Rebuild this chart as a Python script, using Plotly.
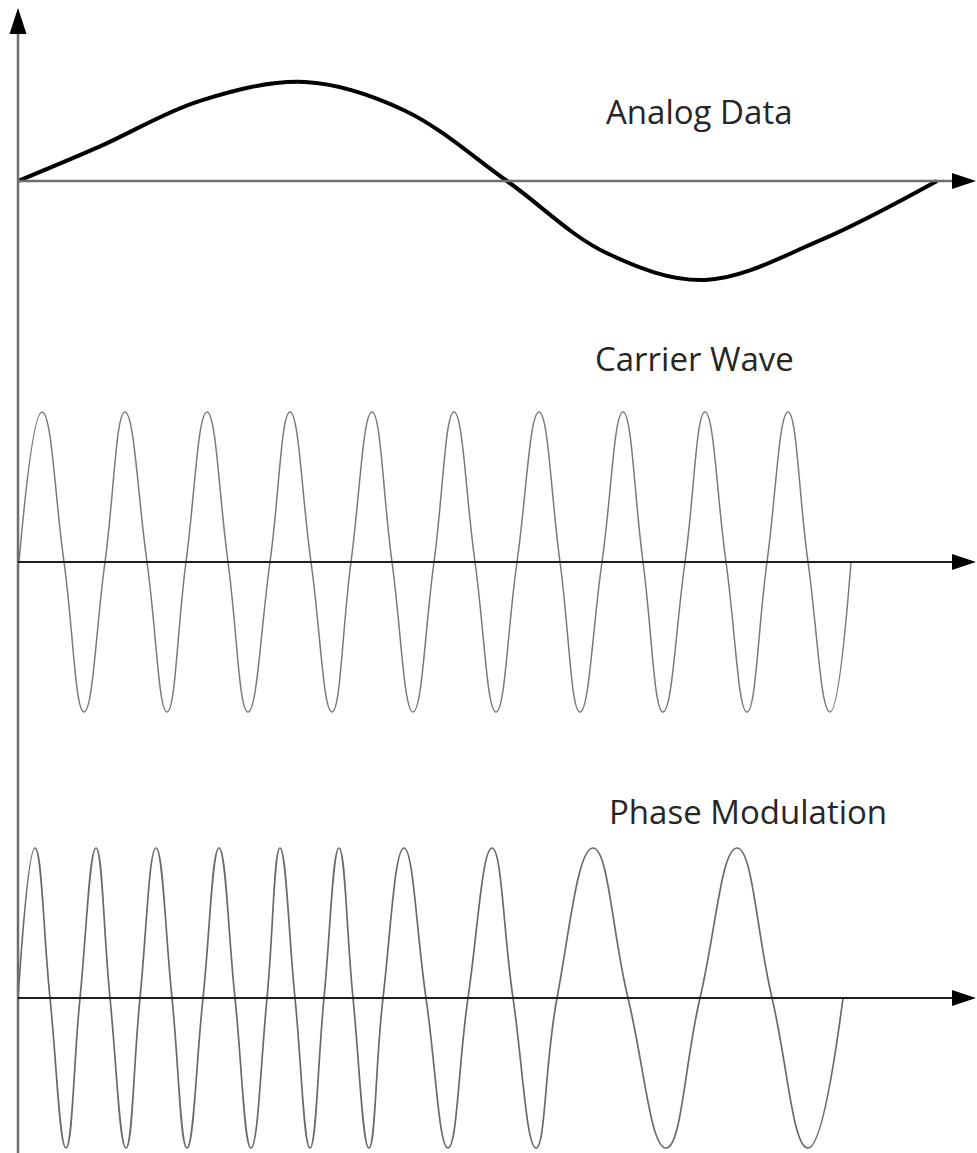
import plotly.graph_objects as go

# ---------------- data ----------------
# time measured from the vertical axis (arbitrary units), amplitude normalised to +-1
analog_t = [0, 82, 182, 287, 387, 489, 587, 687, 802, 919]
analog_v = [0, 0.35, 0.81, 1.0, 0.71, 0, -0.72, -1.0, -0.60, 0]

carrier_t = [1, 24, 46, 66, 87, 107, 129, 149, 168, 189, 210, 230, 252, 272, 293, 314, 333, 354,
             374, 395, 416, 436, 457, 478, 499, 521, 542, 562, 584, 605, 625, 645, 667, 687, 708,
             729, 749, 770, 790, 812, 833]
carrier_v = [0, 1, 0, -1, 0, 1, 0, -1, 0, 1, 0, -1, 0, 1, 0, -1, 0, 1, 0, -1, 0, 1, 0, -1, 0, 1,
             0, -1, 0, 1, 0, -1, 0, 1, 0, -1, 0, 1, 0, -1, 0]

pm_t = [0, 17, 32, 48, 62, 78, 92, 108, 122, 138, 154, 169, 185, 201, 217, 233, 249, 262, 277, 292,
        306, 321, 335, 351, 365, 386, 408, 430, 450, 474, 495, 518, 539, 575, 610, 648, 682, 719,
        754, 790, 825]
pm_v = [0, 1, 0, -1, 0, 1, 0, -1, 0, 1, 0, -1, 0, 1, 0, -1, 0, 1, 0, -1, 0, 1, 0, -1, 0, 1,
        0, -1, 0, 1, 0, -1, 0, 1, 0, -1, 0, 1, 0, -1, 0]

labels = ["Analog Data", "Carrier Wave", "Phase Modulation"]
axis_end_t = [937, 937, 937]   # where each horizontal axis line ends (before the arrow head)

# ---------------- layout helpers ----------------
W, H = 977, 1153
X0 = 18                      # pixel position of the vertical axis (t = 0)


def px(x):
    return x / W


def py(y):
    return 1 - y / H


def ydom(center, half):
    return [max(0.0, 1 - (center + half) / H), min(1.0, 1 - (center - half) / H)]


panels = [  # (center px, amplitude px, half height px)
    (181, 99, 181),
    (562, 150, 170),
    (998, 150, 155),
]

fig = go.Figure()
fig.add_trace(go.Scatter(x=analog_t, y=analog_v, mode="lines", xaxis="x", yaxis="y",
                         line=dict(color="#000000", width=4, shape="spline", smoothing=1.0),
                         hoverinfo="skip", showlegend=False))
fig.add_trace(go.Scatter(x=carrier_t, y=carrier_v, mode="lines", xaxis="x", yaxis="y2",
                         line=dict(color="#7a7a7a", width=1.5, shape="spline", smoothing=1.3),
                         hoverinfo="skip", showlegend=False))
fig.add_trace(go.Scatter(x=pm_t, y=pm_v, mode="lines", xaxis="x", yaxis="y3",
                         line=dict(color="#6a6a6a", width=1.7, shape="spline", smoothing=1.3),
                         hoverinfo="skip", showlegend=False))

layout = dict(
    width=W, height=H, autosize=False,
    margin=dict(l=0, r=0, t=0, b=0, pad=0),
    paper_bgcolor="white", plot_bgcolor="white",
    showlegend=False,
    xaxis=dict(range=[-X0, W - X0], domain=[0, 1], visible=False, fixedrange=True),
)
for i, (c, a, h) in enumerate(panels):
    key = "yaxis" if i == 0 else f"yaxis{i + 1}"
    layout[key] = dict(domain=ydom(c, h), range=[-h / a, h / a], anchor="x",
                       visible=False, fixedrange=True)
fig.update_layout(**layout)

shapes = []
# vertical axis with arrow head
shapes.append(dict(type="line", xref="paper", yref="paper", x0=px(X0), x1=px(X0),
                   y0=py(30), y1=py(H + 5), line=dict(color="#6e6e6e", width=2.5)))
shapes.append(dict(type="path", xref="paper", yref="paper",
                   path=f"M {px(X0)} {py(8)} L {px(X0 - 8.5)} {py(34)} L {px(X0 + 8.5)} {py(34)} Z",
                   fillcolor="#000000", line=dict(color="#000000", width=0)))
axis_colors = ["#6e6e6e", "#1e1e1e", "#1e1e1e"]
axis_widths = [2.6, 2, 2]
for i, (c, a, h) in enumerate(panels):
    shapes.append(dict(type="line", xref="paper", yref="paper",
                       x0=px(X0), x1=px(X0 + axis_end_t[i] + 10), y0=py(c), y1=py(c),
                       line=dict(color=axis_colors[i], width=axis_widths[i])))
    shapes.append(dict(type="path", xref="paper", yref="paper",
                       path=f"M {px(976)} {py(c)} L {px(952)} {py(c - 8)} L {px(952)} {py(c + 8)} Z",
                       fillcolor="#000000", line=dict(color="#000000", width=0)))
fig.update_layout(shapes=shapes)

label_pos = [(699, 111), (694, 358), (748, 811)]
for txt, (lx, ly) in zip(labels, label_pos):
    fig.add_annotation(text=txt, xref="paper", yref="paper", x=px(lx), y=py(ly),
                       xanchor="center", yanchor="middle", showarrow=False,
                       font=dict(family="Open Sans", size=33, color="#262626"))

fig.write_html("out.html", config={"displayModeBar": False, "staticPlot": True},
               post_script="document.body.style.margin='0';document.body.style.overflow='hidden';")
